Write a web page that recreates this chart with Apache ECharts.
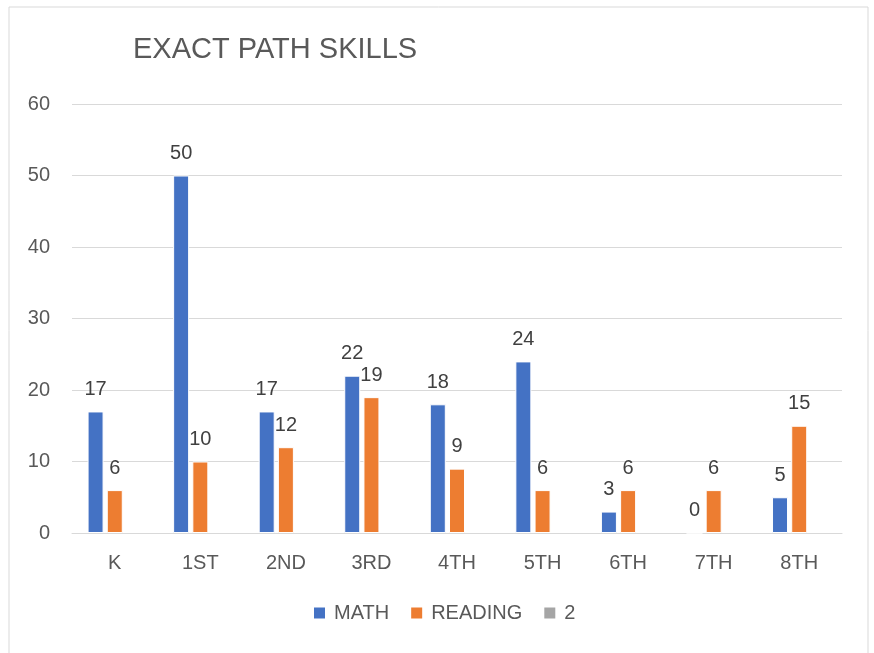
<!DOCTYPE html>
<html>
<head>
<meta charset="utf-8">
<script src="https://cdn.jsdelivr.net/npm/echarts@6/dist/echarts.min.js"></script>
<style>
  html, body { margin: 0; padding: 0; background: #fff; }
  #chart { width: 874px; height: 653px; }
</style>
</head>
<body>
<div id="chart"></div>
<script>
const grades = ['K', '1ST', '2ND', '3RD', '4TH', '5TH', '6TH', '7TH', '8TH']
const math = [17, 50, 17, 22, 18, 24, 3, 0, 5]
const reading = [6, 10, 12, 19, 9, 6, 6, 6, 15]
// third series is empty in the source, only shows in the legend
const blank = [null, null, null, null, null, null, null, null, null]
const yTicks = { min: 0, max: 60, interval: 10 }

const font = '"Liberation Sans", Arial, sans-serif'
const textColor = '#595959'

const chart = echarts.init(document.getElementById('chart'))

function barSeries(name, data, color) {
  return {
    name,
    type: 'bar',
    data,
    barWidth: 16,
    barGap: '20%',
    itemStyle: { color, borderColor: '#fff', borderWidth: 1 },
    label: {
      show: true,
      position: 'top',
      distance: 12,
      color: '#404040',
      fontSize: 20,
      fontFamily: font,
    },
  }
}

chart.setOption({
  animation: false,
  title: {
    text: 'EXACT PATH SKILLS',
    left: 128,
    top: 30,
    textStyle: { color: textColor, fontSize: 29, fontWeight: 'normal', fontFamily: font },
  },
  graphic: [
    {
      type: 'rect',
      shape: { x: 9, y: 7, width: 859, height: 660 },
      style: { fill: 'none', stroke: '#d9d9d9', lineWidth: 1 },
      silent: true,
    },
  ],
  legend: {
    bottom: 25,
    left: 307,
    itemWidth: 13,
    itemHeight: 13,
    itemGap: 20,
    icon: 'rect',
    textStyle: { color: textColor, fontSize: 20, fontFamily: font, padding: [0, 0, 0, 3] },
  },
  grid: { left: 72, right: 32, top: 104, bottom: 120, containLabel: false },
  xAxis: {
    type: 'category',
    data: grades,
    axisLine: { lineStyle: { color: '#d9d9d9', width: 1 } },
    axisTick: { show: false },
    axisLabel: { color: textColor, fontSize: 20, fontFamily: font, margin: 20 },
  },
  yAxis: {
    type: 'value',
    min: yTicks.min,
    max: yTicks.max,
    interval: yTicks.interval,
    axisLine: { show: false },
    axisTick: { show: false },
    splitLine: { lineStyle: { color: '#d9d9d9', width: 1 } },
    axisLabel: { color: textColor, fontSize: 20, fontFamily: font, margin: 22 },
  },
  series: [
    barSeries('MATH', math, '#4472c4'),
    barSeries('READING', reading, '#ed7d31'),
    barSeries('2', blank, '#a5a5a5'),
  ],
})
</script>
</body>
</html>
